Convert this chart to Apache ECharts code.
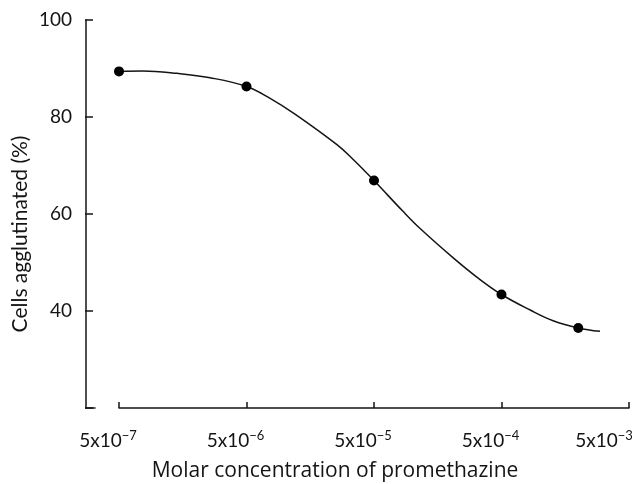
<!DOCTYPE html>
<html>
<head>
<meta charset="utf-8">
<script src="https://cdn.jsdelivr.net/npm/echarts@6/dist/echarts.min.js"></script>
<style>html,body{margin:0;padding:0;background:#fff}#c{width:636px;height:484px}</style>
</head>
<body>
<div id="c"></div>
<script>
// Molar concentration (M) and % cells agglutinated
var pointConc = [5e-7, 5e-6, 5e-5, 5e-4, 2e-3];
var pointPct  = [89.4, 86.3, 66.9, 43.4, 36.5];
// fitted curve
var curveConc = [5e-7, 7.7e-7, 1.43e-6, 2.59e-6, 5e-6, 7.6e-6, 1.2e-5, 2.56e-5, 3.42e-5, 5e-5, 8.4e-5, 1.15e-4, 2.08e-4, 3.2e-4, 5e-4, 8.4e-4, 1.27e-3, 2e-3, 2.96e-3];
var curvePct  = [89.4, 89.5, 89.0, 88.1, 86.3, 83.9, 80.6, 74.3, 71.3, 66.9, 60.6, 57.0, 51.0, 47.0, 43.4, 40.2, 38.0, 36.5, 35.8];
var xTickExp  = ['−7', '−6', '−5', '−4', '−3'];   // labels 5x10^n at each decade
var yHiddenLabel = 20;

var FONT = 'Lato';
var INK = '#141414';
var BASE = 5e-7;
// position = decades above 5x10^-7 (log scale)
function dec(v){ return Math.log10(v / BASE); }
var pts = pointConc.map(function(c,i){ return [dec(c), pointPct[i]]; });
var crv = curveConc.map(function(c,i){ return [dec(c), curvePct[i]]; });

var noShow = { show: false };
var chart = echarts.init(document.getElementById('c'));
chart.setOption({
  animation: false,
  backgroundColor: '#fff',
  title: {
    text: 'Molar concentration of promethazine',
    left: 330, top: 456, textAlign: 'center',
    textStyle: { fontFamily: 'Open Sans', fontSize: 21, fontWeight: 'normal', color: INK }
  },
  grid: [
    { left: 119, right: 7, top: 20, height: 388, outerBoundsMode: 'none', containLabel: false },   // plot
    { left: 86, width: 9, top: 20, height: 388, outerBoundsMode: 'none', containLabel: false },    // y axis + foot
    { left: 119, right: 7, top: 407, height: 1, outerBoundsMode: 'none', containLabel: false },    // upward x ticks
    { left: 85, width: 1, top: 20, height: 388, outerBoundsMode: 'none', containLabel: false }     // rightward y ticks
  ],
  xAxis: [
    {
      gridIndex: 0, type: 'value', min: 0, max: 4, interval: 1,
      splitLine: noShow,
      axisLine: { lineStyle: { color: INK, width: 1.5 } },
      axisTick: noShow,
      axisLabel: {
        margin: 21, color: INK,
        padding: [0, 22, 0, 0],
        formatter: function(v){
          var i = Math.round(v);
          return '{b|5x10}{s|' + xTickExp[i] + '}' + (i === xTickExp.length - 1 ? '{sp|}' : '');
        },
        rich: {
          b: { fontFamily: FONT, fontSize: 19, color: INK, verticalAlign: 'bottom' },
          s: { fontFamily: FONT, fontSize: 13, color: INK, verticalAlign: 'top', padding: [0,0,8,0] },
          sp: { width: 28 }
        }
      }
    },
    {
      gridIndex: 1, type: 'value', min: 0, max: 1,
      splitLine: noShow,
      axisLine: { lineStyle: { color: INK, width: 1.5 } },
      axisTick: noShow, axisLabel: noShow
    },
    {
      gridIndex: 2, type: 'value', min: 0, max: 4, interval: 1, position: 'top',
      splitLine: noShow, axisLine: noShow, axisLabel: noShow,
      axisTick: { show: true, length: 6, lineStyle: { color: INK, width: 1.5 } }
    },
    { gridIndex: 3, type: 'value', min: 0, max: 1, show: false }
  ],
  yAxis: [
    { gridIndex: 0, type: 'value', min: 20, max: 100, show: false },
    {
      gridIndex: 1, type: 'value', min: 20, max: 100, interval: 20,
      name: 'Cells agglutinated (%)', nameLocation: 'middle', nameGap: 55,
      nameTextStyle: { fontFamily: FONT, fontSize: 21, color: INK, padding: [0, 40, 0, 0] },
      splitLine: noShow,
      axisLine: { lineStyle: { color: INK, width: 1.5 } },
      axisTick: noShow,
      axisLabel: {
        margin: 14, fontFamily: FONT, fontSize: 19, color: INK,
        formatter: function(v){ return v === yHiddenLabel ? '' : String(v); }
      }
    },
    { gridIndex: 2, type: 'value', min: 0, max: 1, show: false },
    {
      gridIndex: 3, type: 'value', min: 20, max: 100, interval: 20, position: 'right',
      splitLine: noShow, axisLine: noShow, axisLabel: noShow,
      axisTick: { show: true, length: 8, lineStyle: { color: INK, width: 1.5 } }
    }
  ],
  series: [
    {
      type: 'line', xAxisIndex: 0, yAxisIndex: 0, data: crv, smooth: 0.4,
      showSymbol: false, lineStyle: { color: INK, width: 1.5 }, z: 2
    },
    {
      type: 'scatter', xAxisIndex: 0, yAxisIndex: 0, data: pts,
      symbol: 'circle', symbolSize: 10, itemStyle: { color: '#000', opacity: 1 }, z: 3
    }
  ]
});
</script>
</body>
</html>
